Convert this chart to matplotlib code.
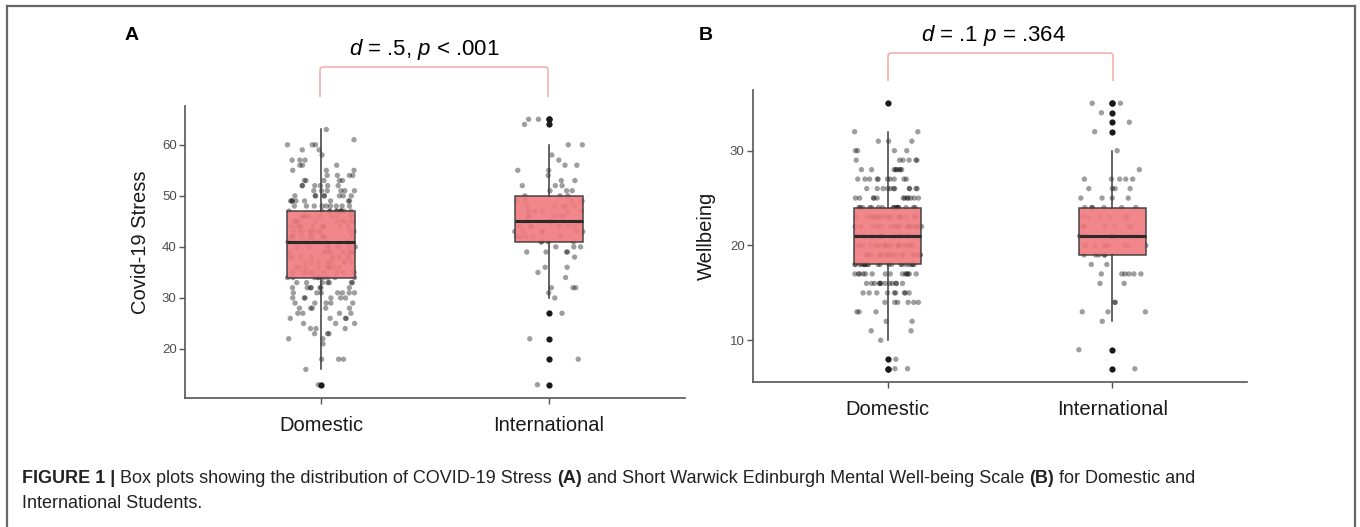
import matplotlib.pyplot as plt
import numpy as np
from matplotlib.lines import Line2D
from matplotlib.path import Path
from matplotlib.patches import PathPatch

plt.rcParams['font.family'] = 'Liberation Sans'
plt.rcParams['mathtext.fontset'] = 'custom'
plt.rcParams['mathtext.rm'] = 'Liberation Sans'
plt.rcParams['mathtext.it'] = 'Liberation Sans:italic'

W, H = 1360, 527

groups = ['Domestic', 'International']

# Covid-19 stress scores (value -> number of students)
dom_stress_vals = [13, 16, 18, 21, 22, 23, 24, 25, 26, 27, 28, 29, 30, 31, 32, 33,
                   34, 35, 36, 37, 38, 39, 40, 41, 42, 43, 44, 45, 46, 47,
                   48, 49, 50, 51, 52, 53, 54, 55, 56, 57, 58, 59, 60, 61, 63]
dom_stress_counts = [1, 1, 3, 1, 2, 3, 3, 3, 4, 4, 5, 5, 6, 7, 7, 7,
                     9, 9, 9, 9, 9, 9, 8, 10, 10, 10, 10, 10, 9, 11,
                     9, 8, 8, 6, 6, 5, 4, 3, 3, 3, 1, 2, 3, 1, 1]
int_stress_vals = [13, 18, 22, 27, 30, 31, 32, 34, 35, 36, 38, 39, 40,
                   41, 42, 43, 44, 45, 46, 47, 48, 49, 50,
                   51, 52, 53, 54, 55, 56, 57, 58, 60, 64, 65]
int_stress_counts = [1, 1, 1, 1, 1, 1, 3, 1, 1, 2, 1, 4, 3,
                     4, 5, 6, 6, 5, 5, 5, 5, 4, 3,
                     3, 3, 2, 1, 2, 2, 1, 1, 2, 1, 2]

# Wellbeing (SWEMWBS) scores
dom_well_vals = [7, 8, 10, 11, 12, 13, 14, 15, 16, 17, 18, 19, 20, 21, 22, 23, 24,
                 25, 26, 27, 28, 29, 30, 31, 32, 35]
dom_well_counts = [2, 1, 1, 2, 2, 3, 6, 9, 12, 14, 20, 20, 20, 16, 20, 20, 16,
                   12, 11, 10, 8, 6, 4, 3, 2, 1]
int_well_vals = [7, 9, 12, 13, 14, 16, 17, 18, 19, 20, 21, 22, 23, 24,
                 25, 26, 27, 28, 30, 32, 33, 34, 35]
int_well_counts = [1, 1, 1, 3, 2, 2, 6, 2, 5, 9, 10, 7, 6, 6,
                   4, 4, 5, 1, 1, 1, 1, 1, 2]

stats_text = [r'$d$ = .5, $p$ < .001', r'$d$ = .1 $p$ = .364']
ylabels = ['Covid-19 Stress', 'Wellbeing']
panel_letters = ['A', 'B']


def jitter(n, seed, width=0.15):
    # deterministic scatter of horizontal offsets
    k = np.arange(n) + seed
    u = np.sin(k * 12.9898 + 78.233) * 43758.5453
    return (u - np.floor(u) - 0.5) * 2 * width


def px(x, y):
    return x / W, 1 - y / H


def draw_panel(ax, data, ylabel, yticks, seed):
    for i, d in enumerate(data):
        xs = i + 1 + jitter(len(d), seed + 500 * i)
        ax.scatter(xs, d, s=15, color='black', alpha=0.38, edgecolors='none', zorder=1)
    ax.boxplot(data, positions=[1, 2], widths=0.3, patch_artist=True, whis=1.5,
               tick_labels=groups,
               boxprops=dict(facecolor='#F07D80', edgecolor='#3a3a3a', linewidth=1.1, alpha=0.92),
               medianprops=dict(color='#2a2a2a', linewidth=2.2),
               whiskerprops=dict(color='#3a3a3a', linewidth=1.1),
               capprops=dict(visible=False),
               flierprops=dict(marker='o', markerfacecolor='#1a1a1a', markeredgecolor='none',
                               markersize=4.5),
               zorder=2)
    allv = np.concatenate(data)
    span = allv.max() - allv.min()
    ax.set_ylim(allv.min() - 0.05 * span, allv.max() + 0.05 * span)
    ax.set_xlim(0.4, 2.6)
    ax.set_yticks(yticks)
    ax.spines['top'].set_visible(False)
    ax.spines['right'].set_visible(False)
    for s in ['left', 'bottom']:
        ax.spines[s].set_color('#555555')
        ax.spines[s].set_linewidth(1.2)
    ax.tick_params(axis='y', length=4, width=1, color='#555555', labelsize=9.5,
                   labelcolor='#4D4D4D', pad=2)
    ax.tick_params(axis='x', length=4, width=1, color='#555555', labelsize=14.5,
                   labelcolor='#1a1a1a', pad=9)
    ax.set_ylabel(ylabel, fontsize=14.5, color='#1a1a1a')


def bracket(fig, x0, x1, ytop, ybot, r=3):
    verts = [px(x0, ybot), px(x0, ytop + r), px(x0, ytop), px(x0 + r, ytop),
             px(x1 - r, ytop), px(x1, ytop), px(x1, ytop + r), px(x1, ybot)]
    codes = [Path.MOVETO, Path.LINETO, Path.CURVE3, Path.CURVE3,
             Path.LINETO, Path.CURVE3, Path.CURVE3, Path.LINETO]
    fig.add_artist(PathPatch(Path(verts, codes), fill=False, edgecolor='#F4A0A0',
                             linewidth=1.0, transform=fig.transFigure))


fig = plt.figure(figsize=(W / 100, H / 100), dpi=100)

ax1 = fig.add_axes([185 / W, 1 - 398 / H, 500 / W, 292 / H])
ax2 = fig.add_axes([753 / W, 1 - 382 / H, 494 / W, 292 / H])

stress = [np.repeat(dom_stress_vals, dom_stress_counts), np.repeat(int_stress_vals, int_stress_counts)]
well = [np.repeat(dom_well_vals, dom_well_counts), np.repeat(int_well_vals, int_well_counts)]

draw_panel(ax1, stress, ylabels[0], [20, 30, 40, 50, 60], seed=3)
draw_panel(ax2, well, ylabels[1], [10, 20, 30], seed=1200)
ax1.yaxis.set_label_coords(-0.07, 0.535)
ax2.yaxis.set_label_coords(-0.075, 0.5)

# panel letters, stats and brackets
fig.text(*px(125, 40), panel_letters[0], fontsize=14, fontweight='bold', va='baseline')
fig.text(*px(699, 40), panel_letters[1], fontsize=14, fontweight='bold', va='baseline')
fig.text(*px(424, 55), stats_text[0], fontsize=16, ha='center', va='baseline')
fig.text(*px(993, 41), stats_text[1], fontsize=16, ha='center', va='baseline')
bracket(fig, 320, 548, 67, 97)
bracket(fig, 888, 1113, 53, 81)

# outer frame
for (xa, ya), (xb, yb) in [((7, 6), (1355, 6)), ((7, 6), (7, 527)), ((1355, 6), (1355, 527))]:
    fig.add_artist(Line2D([xa / W, xb / W], [1 - ya / H, 1 - yb / H], color='#666666',
                          linewidth=1.6, transform=fig.transFigure))

# caption with bold pieces
renderer = fig.canvas.get_renderer()
caption = [
    [('FIGURE 1 |', 'bold'), (' Box plots showing the distribution of COVID-19 Stress ', 'normal'),
     ('(A)', 'bold'), (' and Short Warwick Edinburgh Mental Well-being Scale ', 'normal'),
     ('(B)', 'bold'), (' for Domestic and', 'normal')],
    [('International Students.', 'normal')],
]
for line, base in zip(caption, [483, 508]):
    x = 22
    for txt, weight in line:
        t = fig.text(*px(x, base), txt, fontsize=13, fontweight=weight, va='baseline',
                     ha='left', color='#222222')
        x += t.get_window_extent(renderer).width

fig.savefig('out.png', dpi=100)
